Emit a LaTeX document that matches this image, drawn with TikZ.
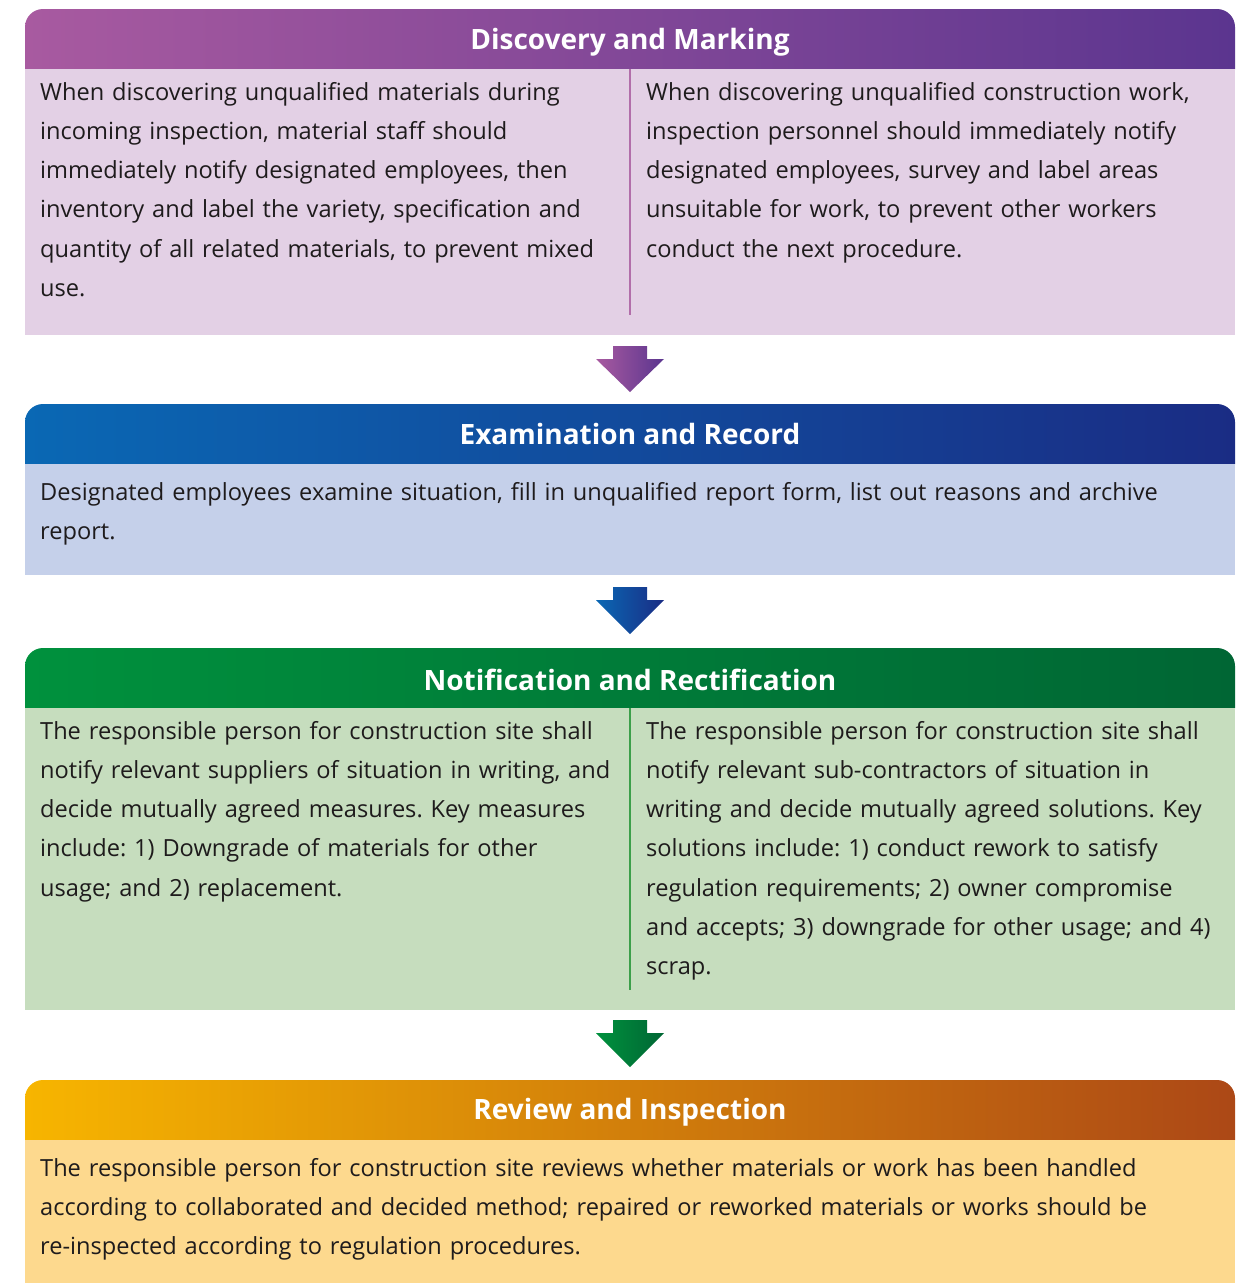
\documentclass[tikz,border=0pt]{standalone}
\usepackage{fontspec}
\setmainfont{Open Sans}
\usetikzlibrary{calc}
\frenchspacing

\definecolor{purpleL}{HTML}{A85AA0}
\definecolor{purpleR}{HTML}{5B358F}
\definecolor{purpleBody}{HTML}{E3D0E5}
\definecolor{purpleRule}{HTML}{B26EAA}
\definecolor{blueL}{HTML}{0A68B4}
\definecolor{blueR}{HTML}{1A2C84}
\definecolor{blueBody}{HTML}{C5D0EA}
\definecolor{greenL}{HTML}{00913D}
\definecolor{greenR}{HTML}{006634}
\definecolor{greenBody}{HTML}{C6DDBE}
\definecolor{greenRule}{HTML}{3C9F4A}
\definecolor{orangeL}{HTML}{F7B500}
\definecolor{orangeR}{HTML}{AC4816}
\definecolor{orangeBody}{HTML}{FDD98E}
\definecolor{bodytext}{HTML}{1E1B1C}

\begin{document}
\begin{tikzpicture}[x=1pt,y=-1pt,
    head/.style={text=white,font=\fontsize{28}{32}\selectfont\bfseries,anchor=base,inner sep=0pt},
    body/.style={text=bodytext,font=\fontsize{23.6}{39.3}\selectfont,anchor=base west,inner sep=0pt,text width=#1,align=left},
    body/.default=585]
    \useasboundingbox (0,0) rectangle (1243,1283);

    % Discovery and Marking
    \shade[left color=purpleL, right color=purpleR] (25,69) [rounded corners=18] -- (25,9) -- (1235,9) [sharp corners] -- (1235,69) -- cycle;
    \fill[purpleBody] (25,69) rectangle (1235,335);
    \node[head] (discovery) at (630,49) {Discovery and Marking};
    \node[body] (discovery_material) at (40,100) {When discovering unqualified materials during\\incoming inspection, material staff should\\immediately notify designated employees, then\\inventory and label the variety, specification and\\quantity of all related materials, to prevent mixed\\use.};
    \node[body] (discovery_work) at (646,100) {When discovering unqualified construction work,\\inspection personnel should immediately notify\\designated employees, survey and label areas\\unsuitable for work, to prevent other workers\\conduct the next procedure.};
    \coordinate (discovery_top) at (630,69);
    \draw[purpleRule, line width=2] (discovery_top) -- ++(0,246);

    % arrow 1
    \coordinate (arrow_one) at (630,346);
    \shade[left color=purpleL, right color=purpleR] (arrow_one) ++(-17,0) -- ++(34,0) -- ++(0,13) -- ++(17,0) -- ++(-34,33) -- ++(-34,-33) -- ++(17,0) -- cycle;

    % Examination and Record
    \shade[left color=blueL, right color=blueR] (25,464) [rounded corners=18] -- (25,404) -- (1235,404) [sharp corners] -- (1235,464) -- cycle;
    \fill[blueBody] (25,464) rectangle (1235,575);
    \node[head] (examination) at (630,444) {Examination and Record};
    \node[body=1190] (examination_text) at (40,500) {Designated employees examine situation, fill in unqualified report form, list out reasons and archive\\report.};

    % arrow 2
    \coordinate (arrow_two) at (630,587);
    \shade[left color=blueL, right color=blueR] (arrow_two) ++(-17,0) -- ++(34,0) -- ++(0,13) -- ++(17,0) -- ++(-34,34) -- ++(-34,-34) -- ++(17,0) -- cycle;

    % Notification and Rectification
    \shade[left color=greenL, right color=greenR] (25,708) [rounded corners=18] -- (25,648) -- (1235,648) [sharp corners] -- (1235,708) -- cycle;
    \fill[greenBody] (25,708) rectangle (1235,1010);
    \node[head] (notification) at (630,690) {Notification and Rectification};
    \node[body] (notification_supplier) at (40,739) {The responsible person for construction site shall\\notify relevant suppliers of situation in writing, and\\decide mutually agreed measures. Key measures\\include: 1) Downgrade of materials for other\\usage; and 2) replacement.};
    \node[body] (notification_contractor) at (646,739) {The responsible person for construction site shall\\notify relevant sub-contractors of situation in\\writing and decide mutually agreed solutions. Key\\solutions include: 1) conduct rework to satisfy\\regulation requirements; 2) owner compromise\\and accepts; 3) downgrade for other usage; and 4)\\scrap.};
    \coordinate (notification_top) at (630,708);
    \draw[greenRule, line width=2] (notification_top) -- ++(0,282);

    % arrow 3
    \coordinate (arrow_three) at (630,1020);
    \shade[left color=greenL, right color=greenR] (arrow_three) ++(-17,0) -- ++(34,0) -- ++(0,13) -- ++(17,0) -- ++(-34,34) -- ++(-34,-34) -- ++(17,0) -- cycle;

    % Review and Inspection
    \shade[left color=orangeL, right color=orangeR] (25,1140) [rounded corners=18] -- (25,1080) -- (1235,1080) [sharp corners] -- (1235,1140) -- cycle;
    \fill[orangeBody] (25,1140) rectangle (1235,1283);
    \node[head] (review) at (630,1119) {Review and Inspection};
    \node[body=1190] (review_text) at (40,1176) {The responsible person for construction site reviews whether materials or work has been handled\\according to collaborated and decided method; repaired or reworked materials or works should be\\re-inspected according to regulation procedures.};
\end{tikzpicture}
\end{document}
